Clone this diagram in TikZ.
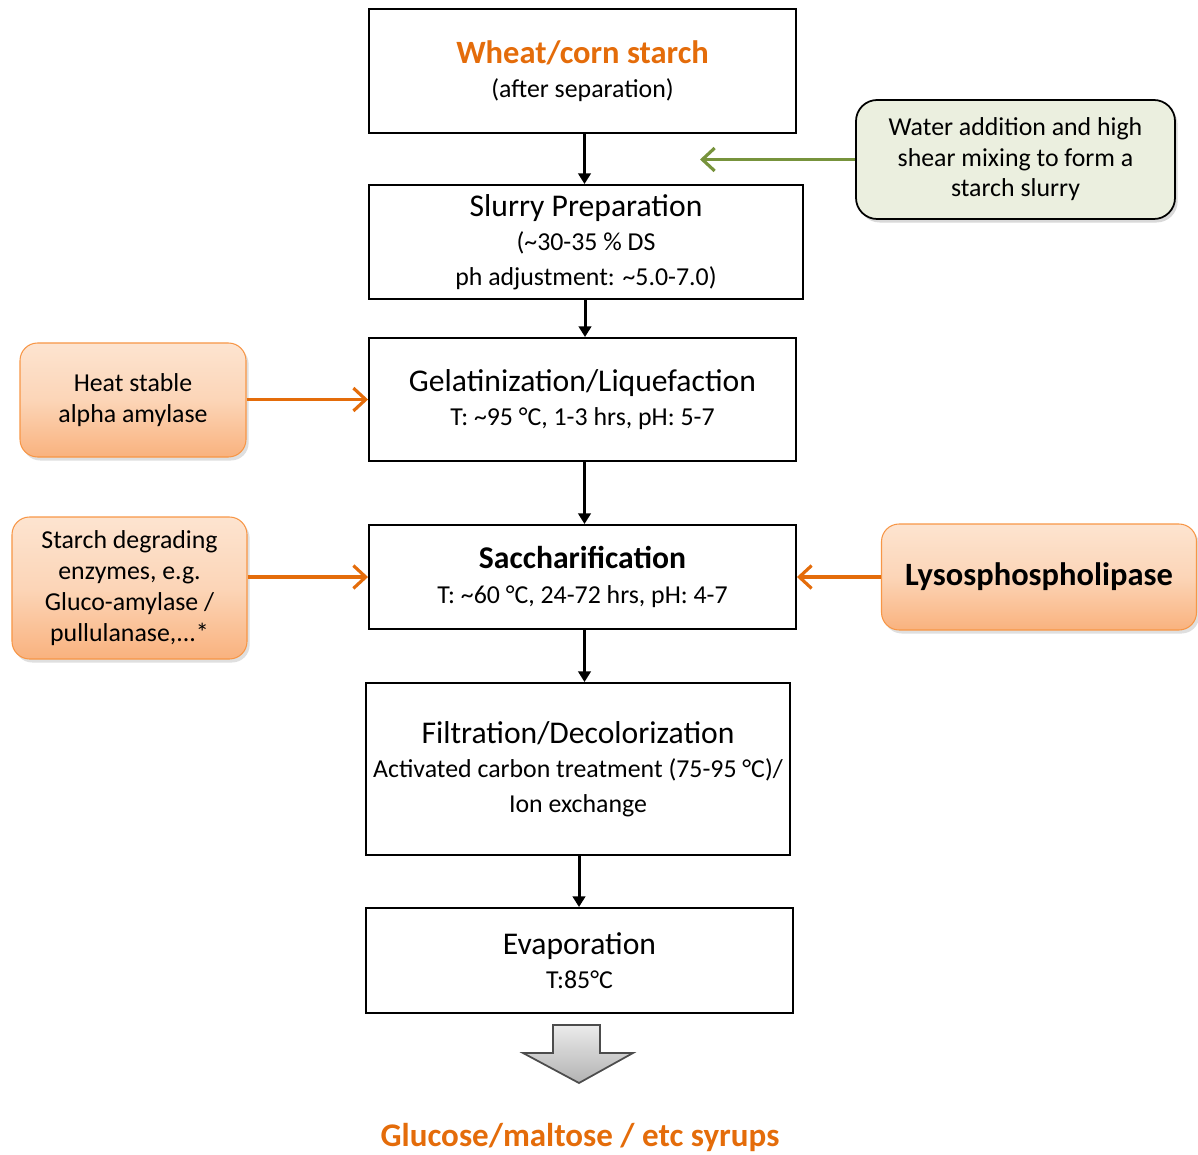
\documentclass[tikz,border=0pt]{standalone}
\usepackage{fontspec}
\setmainfont{Carlito}
\usepackage{xcolor}
\usetikzlibrary{arrows.meta, positioning, shadows}
\definecolor{syrup}{HTML}{E46C0A}
\definecolor{peachtop}{HTML}{FDE4D0}
\definecolor{peachbot}{HTML}{F9B27E}
\definecolor{peachline}{HTML}{F79646}
\definecolor{sage}{HTML}{EBEFDF}
\definecolor{olive}{HTML}{77933C}
\tikzset{
stepbox/.style={draw, line width=1.1pt, minimum height=#1, align=center,
  font=\fontsize{14.7}{19.5}\selectfont}, % the process steps in the middle column
enzyme/.style={draw=peachline, line width=0.6pt, rounded corners=10pt, align=center,
  top color=peachtop, bottom color=peachbot, middle color=peachtop!70!peachbot,
  drop shadow={opacity=0.25, shadow xshift=1.5pt, shadow yshift=-2pt},
  font=\fontsize{14.7}{17.5}\selectfont}, % orange enzyme boxes
waterbox/.style={draw, line width=1pt, rounded corners=12pt, fill=sage, align=center,
  drop shadow={opacity=0.3, shadow xshift=1.5pt, shadow yshift=-2pt},
  font=\fontsize{14.7}{17.3}\selectfont},
flow/.style={line width=1.7pt, -{Triangle[length=6pt, width=7pt]}}, % black step arrows
feed/.style={line width=1.8pt, draw=syrup, -{Straight Barb[length=7pt, width=13pt, line width=1.8pt]}},
}
\newcommand{\steptitle}{\fontsize{18}{20}\selectfont}

\begin{document}
\begin{tikzpicture}
    \useasboundingbox (0,0) rectangle (23.96,-23.1);

    % middle column
    \node[stepbox=2.48cm, minimum width=8.54cm] (wheat) at (11.65,-1.42)
        {{\fontsize{18.5}{20}\selectfont\bfseries\color{syrup}Wheat/corn starch}\\(after separation)};
    \node[stepbox=2.28cm, minimum width=8.68cm] (slurry) at (11.72,-4.84)
        {{\steptitle Slurry Preparation}\\(\textasciitilde30-35 \% DS\\ph adjustment: \textasciitilde5.0-7.0)};
    \node[stepbox=2.46cm, minimum width=8.54cm] (gelat) at (11.65,-7.99)
        {{\steptitle Gelatinization/Liquefaction}\\T: \textasciitilde95 °C, 1-3 hrs, pH: 5-7};
    \node[stepbox=2.08cm, minimum width=8.54cm] (sacch) at (11.65,-11.54)
        {{\steptitle\bfseries Saccharification}\\T: \textasciitilde60 °C, 24-72 hrs, pH: 4-7};
    \node[stepbox=3.44cm, minimum width=8.48cm] (filt) at (11.56,-15.38)
        {{\steptitle Filtration/Decolorization}\\Activated carbon treatment (75-95 °C)/\\Ion exchange};
    \node[stepbox=2.10cm, minimum width=8.54cm] (evap) at (11.59,-19.21)
        {{\steptitle Evaporation}\\T:85°C};
    \node[font=\fontsize{18.8}{20}\selectfont\bfseries, text=syrup] (syrups) at (11.6,-22.74)
        {Glucose/maltose / etc syrups};

    % side inputs
    \node[waterbox, minimum width=6.38cm, minimum height=2.38cm] (water) at (20.31,-3.19)
        {Water addition and high\\shear mixing to form a\\starch slurry};
    \node[enzyme, minimum width=4.52cm, minimum height=2.28cm] (heat) at (2.66,-8.0)
        {Heat stable\\alpha amylase};
    \node[enzyme, minimum width=4.70cm, minimum height=2.84cm] (degrade) at (2.59,-11.76)
        {Starch degrading\\enzymes, e.g.\\Gluco-amylase /\\pullulanase,...*};
    \node[enzyme, minimum width=6.3cm, minimum height=2.12cm, font=\fontsize{18.5}{20}\selectfont\bfseries]
        (lyso) at (20.78,-11.54) {Lysosphospholipase};

    \coordinate (wateri) at (14.0,-3.19);

    % connectors
    \draw[flow] ([xshift=0.04cm]wheat.south) -- ([xshift=0.04cm]wheat.south |- slurry.north);
    \draw[flow] ([xshift=-0.02cm]slurry.south) -- ([xshift=-0.02cm]slurry.south |- gelat.north);
    \draw[flow] ([xshift=0.04cm]gelat.south) -- ([xshift=0.04cm]sacch.north);
    \draw[flow] ([xshift=0.04cm]sacch.south) -- ([xshift=0.04cm]sacch.south |- filt.north);
    \draw[flow] ([xshift=0.02cm]filt.south) -- ([xshift=0.02cm]filt.south |- evap.north);
    \draw[feed, draw=olive] (water.west) -- (wateri);
    \draw[feed] (heat.east |- gelat.west) -- (gelat.west);
    \draw[feed] (degrade.east |- sacch.west) -- (sacch.west);
    \draw[feed] (lyso.west) -- (sacch.east);

    % big block arrow to the product
    \draw[line width=1pt, draw=black!70, top color=black!8, bottom color=black!30]
        (11.06,-20.5) -- (12.0,-20.5) -- (12.0,-21.06) -- (12.66,-21.06)
        -- (11.58,-21.66) -- (10.46,-21.06) -- (11.06,-21.06) -- cycle;
\end{tikzpicture}
\end{document}
